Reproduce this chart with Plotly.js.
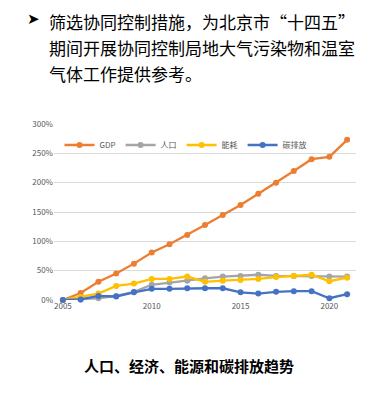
<!DOCTYPE html>
<html><head><meta charset="utf-8">
<script src="https://cdn.plot.ly/plotly-3.0.1.min.js"></script>
<style>html,body{margin:0;padding:0;background:#fff;}#c{width:391px;height:393px;}</style>
</head><body><div id="c"></div>
<script>
const years = [2005,2006,2007,2008,2009,2010,2011,2012,2013,2014,2015,2016,2017,2018,2019,2020,2021];
const gdp = [0,12,31,45,62,81,95,111,128,145,162,181,200,220,240,244,273];
const population = [0,1,3,7,14,26,30,33,37,40,41,43,41,41,41,40,40];
const energy = [0,5,11,24,28,36,36,40,31,33,34,36,39,41,43,32,38];
const carbon = [0,1,7,6,13,19,19,20,20,20,13,11,14,15,15,3,10];
const seriesNames = ['GDP','人口','能耗','碳排放'];
const colors = ['#ED7D31','#A5A5A5','#FFC000','#4472C4'];
const yTicks = [0,50,100,150,200,250,300];
const xTicks = [2005,2010,2015,2020];
const headLines = ['筛选协同控制措施，为北京市“十四五”','期间开展协同控制局地大气污染物和温室','气体工作提供参考。'];
const caption = '人口、经济、能源和碳排放趋势';

const font = '"Noto Sans CJK SC","Noto Sans",sans-serif';
const allSeries = [gdp, population, energy, carbon];
const traces = allSeries.map((s,i)=>({
  x: years, y: s, name: seriesNames[i], type:'scatter', mode:'lines+markers',
  line:{color:colors[i], width:2.3}, marker:{color:colors[i], size:6},
  cliponaxis:false
}));

const L=54, R=356, T=124, B=300;
const px = x => (x-L)/(R-L);
const py = y => (B-y)/(B-T);

const ann = [];
ann.push({xref:'paper',yref:'paper',x:px(25),y:py(19),xanchor:'left',yanchor:'middle',text:'➤',showarrow:false,font:{family:'DejaVu Sans',size:15,color:'#000'}});
headLines.forEach((t,i)=>ann.push({xref:'paper',yref:'paper',x:px(47),y:py(21+26.5*i),xanchor:'left',yanchor:'middle',text:t,showarrow:false,font:{family:font,size:17,color:'#000'}}));
ann.push({xref:'paper',yref:'paper',x:px(189),y:py(365),xanchor:'center',yanchor:'middle',text:'<b>'+caption+'</b>',showarrow:false,font:{family:font,size:15,color:'#000'}});

const layout = {
  width:391, height:393,
  margin:{l:L, r:391-R, t:T, b:393-B},
  paper_bgcolor:'#fff', plot_bgcolor:'#fff',
  showlegend:true,
  legend:{orientation:'h', x:px(186), xanchor:'center', y:py(145), yanchor:'middle',
    font:{family:font,size:8,color:'#595959'}, bgcolor:'rgba(0,0,0,0)', itemwidth:30},
  xaxis:{range:[2004.5,2021.5], tickvals:xTicks, ticktext:xTicks.map(String), showgrid:false, zeroline:false,
    showline:false, ticks:'', tickfont:{family:font,size:8,color:'#595959'}, fixedrange:true},
  yaxis:{range:[0,300], tickvals:yTicks, ticktext:yTicks.map(v=>v+'%'), showgrid:true, gridcolor:'#d9d9d9', gridwidth:1,
    zeroline:false, showline:false, ticks:'', tickfont:{family:font,size:8,color:'#595959'}, fixedrange:true},
  annotations:ann
};
Plotly.newPlot('c', traces, layout, {displayModeBar:false, staticPlot:true});
</script></body></html>
